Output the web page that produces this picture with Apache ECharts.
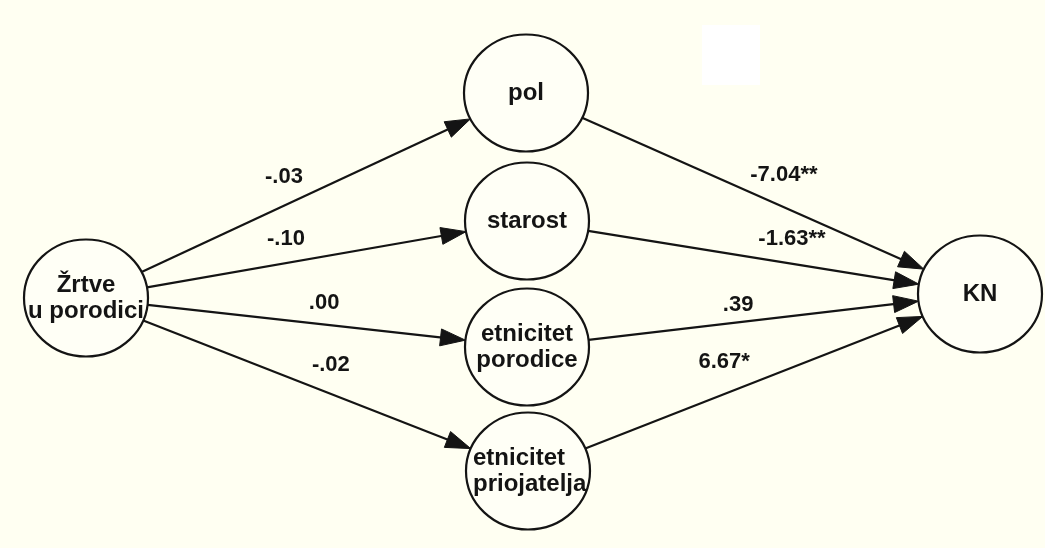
<!DOCTYPE html>
<html>
<head>
<meta charset="utf-8">
<script src="https://cdn.jsdelivr.net/npm/echarts@6/dist/echarts.min.js"></script>
<style>
html,body{margin:0;padding:0;background:#fffff2;}
#chart{width:1045px;height:548px;}
</style>
</head>
<body>
<div id="chart"></div>
<script>
// ---- data ----
const nodeNames = ['Žrtve\nu porodici', 'pol', 'starost', 'etnicitet\nporodice', 'etnicitet\npriojatelja', 'KN'];
const nodeX = [86, 526, 527, 527, 528, 980];
const nodeY = [298, 93, 221, 347, 471, 294];
const edgeFrom = [0, 0, 0, 0, 1, 2, 3, 4];
const edgeTo = [1, 2, 3, 4, 5, 5, 5, 5];
const edgeLabels = ['-.03', '-.10', '.00', '-.02', '-7.04**', '-1.63**', '.39', '6.67*'];

// ---- layout / style ----
const labelT = [0.45, 0.4535, 0.54, 0.554, 0.568, 0.585, 0.466, 0.434];
const labelDy = [-29, -24, -22, -29, -32, -25, -17, -32];
const nodeAlign = ['center', 'center', 'center', 'center', 'left', 'center'];
const RX = 62, RY = 58.5;
const ARROW_LEN = 25, ARROW_HALF = 8.5;
const INK = '#141414';
const FONT = 'Liberation Sans, Arial, sans-serif';

function ellipseDist(ux, uy) {
  return 1 / Math.sqrt((ux / RX) * (ux / RX) + (uy / RY) * (uy / RY));
}

const chart = echarts.init(document.getElementById('chart'));
chart.setOption({
  backgroundColor: '#fffff2',
  animation: false,
  grid: { left: 0, right: 0, top: 0, bottom: 0 },
  xAxis: { type: 'value', min: 0, max: 1045, show: false },
  yAxis: { type: 'value', min: 0, max: 548, inverse: true, show: false },
  graphic: [
    { type: 'rect', shape: { x: 702, y: 25, width: 58, height: 60 }, style: { fill: '#ffffff' }, z: -1 }
  ],
  series: [
    {
      type: 'custom',
      coordinateSystem: 'cartesian2d',
      data: edgeFrom.map((f, i) => [i]),
      z: 2,
      renderItem: function (params, api) {
        const i = api.value(0);
        const a = api.coord([nodeX[edgeFrom[i]], nodeY[edgeFrom[i]]]);
        const b = api.coord([nodeX[edgeTo[i]], nodeY[edgeTo[i]]]);
        const dx = b[0] - a[0], dy = b[1] - a[1];
        const len = Math.sqrt(dx * dx + dy * dy);
        const ux = dx / len, uy = dy / len;
        const r = ellipseDist(ux, uy);
        const s = [a[0] + ux * r, a[1] + uy * r];
        const tip = [b[0] - ux * r, b[1] - uy * r];
        const base = [tip[0] - ux * ARROW_LEN, tip[1] - uy * ARROW_LEN];
        const nx = -uy, ny = ux;
        const lineEnd = [tip[0] - ux * (ARROW_LEN - 4), tip[1] - uy * (ARROW_LEN - 4)];
        const lp = [a[0] + dx * labelT[i], a[1] + dy * labelT[i] + labelDy[i]];
        return {
          type: 'group',
          children: [
            { type: 'line', shape: { x1: s[0], y1: s[1], x2: lineEnd[0], y2: lineEnd[1] },
              style: { stroke: INK, lineWidth: 2.2 } },
            { type: 'polygon', shape: { points: [tip, [base[0] + nx * ARROW_HALF, base[1] + ny * ARROW_HALF], [base[0] - nx * ARROW_HALF, base[1] - ny * ARROW_HALF]] },
              style: { fill: INK, stroke: INK, lineWidth: 1 } },
            { type: 'text', style: { text: edgeLabels[i], x: lp[0], y: lp[1], align: 'center', verticalAlign: 'middle',
              font: 'bold 22px ' + FONT, fill: INK } }
          ]
        };
      }
    },
    {
      type: 'custom',
      coordinateSystem: 'cartesian2d',
      data: nodeX.map((x, i) => [x, nodeY[i]]),
      z: 3,
      renderItem: function (params, api) {
        const i = params.dataIndex;
        const c = api.coord([api.value(0), api.value(1)]);
        const al = nodeAlign[i];
        const tx = al === 'left' ? c[0] - 55 : c[0];
        return {
          type: 'group',
          children: [
            { type: 'ellipse', shape: { cx: c[0], cy: c[1], rx: RX, ry: RY },
              style: { fill: '#fffff6', stroke: INK, lineWidth: 2.2 } },
            { type: 'text', style: { text: nodeNames[i], x: tx, y: c[1], align: al, verticalAlign: 'middle',
              font: 'bold 24px ' + FONT, lineHeight: 26, fill: INK } }
          ]
        };
      }
    }
  ]
});
</script>
</body>
</html>
